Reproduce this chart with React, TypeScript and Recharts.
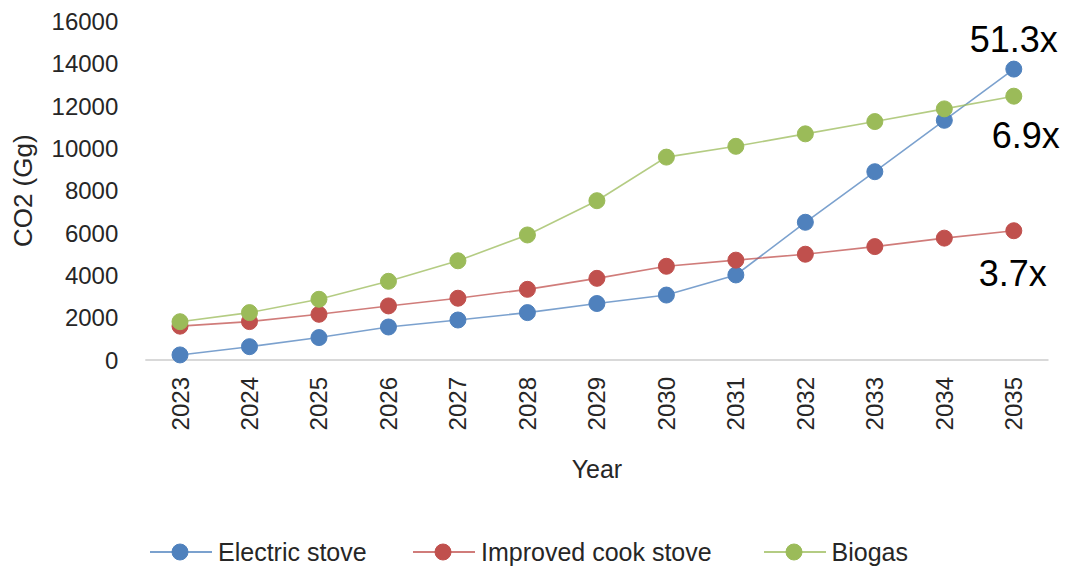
import React from 'react';
import { LineChart, Line, XAxis, YAxis } from 'recharts';

const years = ['2023', '2024', '2025', '2026', '2027', '2028', '2029', '2030', '2031', '2032', '2033', '2034', '2035'];
const electricStove = [240, 630, 1060, 1560, 1890, 2240, 2670, 3070, 4020, 6510, 8900, 11330, 13750];
const improvedCookStove = [1600, 1815, 2160, 2556, 2920, 3340, 3860, 4430, 4720, 5000, 5360, 5760, 6110];
const biogas = [1810, 2240, 2870, 3720, 4690, 5910, 7530, 9590, 10100, 10690, 11270, 11870, 12470];
const yTicks = [0, 2000, 4000, 6000, 8000, 10000, 12000, 14000, 16000];
const seriesNames = ['Electric stove', 'Improved cook stove', 'Biogas'];
const growthLabels = ['51.3x', '3.7x', '6.9x'];

const COLORS = ['#4F81BD', '#C0504D', '#9BBB59'];
const FONT = '"Liberation Sans", Arial, sans-serif';
const TEXT = '#262626';

const data = years.map((year, i) => ({
  year,
  electric: electricStove[i],
  improved: improvedCookStove[i],
  biogas: biogas[i],
}));

const keys = ['electric', 'improved', 'biogas'];
// label offsets relative to last point (dx, dy to text center)
const labelOffsets = [
  [0, -30],
  [-1, 42],
  [12, 39],
];
const legendItemWidths = [263, 350.5, 150];

const XTick = (props: any) => {
  const { x, y, payload } = props;
  const ty = y + 17;
  return (
    <text
      x={x}
      y={ty}
      transform={`rotate(-90, ${x}, ${ty})`}
      textAnchor="end"
      dy="0.355em"
      fill={TEXT}
      fontSize={24}
      fontFamily={FONT}
    >
      {payload.value}
    </text>
  );
};

const makeLabel = (s: number) => (props: any) => {
  const { x, y, index } = props;
  if (index !== years.length - 1) return null;
  return (
    <text
      key={`lbl-${s}`}
      x={x + labelOffsets[s][0]}
      y={y + labelOffsets[s][1]}
      textAnchor="middle"
      dy="0.355em"
      fontSize={36}
      fontFamily={FONT}
      fill="#000"
    >
      {growthLabels[s]}
    </text>
  );
};

const LegendIcon = ({ color }: { color: string }) => (
  <svg width={62} height={20} style={{ display: 'block' }}>
    <line x1={0} y1={10} x2={62} y2={10} stroke={color} strokeWidth={2} strokeOpacity={0.75} />
    <circle cx={30} cy={10} r={8} fill={color} stroke={color} strokeWidth={1} />
  </svg>
);

export default function App() {
  return (
    <div style={{ position: 'absolute', left: 0, top: 0, width: 1078, height: 581, background: '#fff' }}>
      <LineChart
        width={1078}
        height={581}
        data={data}
        margin={{ top: 21.5, right: 29.5, bottom: 0, left: 0 }}
      >
        <XAxis
          dataKey="year"
          height={221}
          interval={0}
          padding={{ left: 34.7, right: 34.7 }}
          axisLine={{ stroke: '#d9d9d9', strokeWidth: 2 }}
          tickLine={false}
          tickSize={0}
          tickMargin={0}
          tick={<XTick />}
          label={{ value: 'Year', position: 'insideTop', offset: 100, fill: TEXT, fontSize: 25, fontFamily: FONT }}
        />
        <YAxis
          width={145.3}
          domain={[0, 16000]}
          ticks={yTicks}
          interval={0}
          axisLine={false}
          tickLine={false}
          tickSize={0}
          tickMargin={27}
          tick={{ fill: TEXT, fontSize: 24, fontFamily: FONT }}
          label={{
            value: 'CO2 (Gg)',
            angle: -90,
            position: 'insideLeft',
            offset: 23,
            fill: TEXT,
            fontSize: 26,
            fontFamily: FONT,
            style: { textAnchor: 'middle' },
          }}
        />
        {keys.map((k, s) => (
          <Line
            key={k}
            type="linear"
            dataKey={k}
            name={seriesNames[s]}
            stroke={COLORS[s]}
            strokeWidth={1.6}
            strokeOpacity={0.75}
            dot={{ r: 8, fill: COLORS[s], stroke: COLORS[s], strokeWidth: 1, fillOpacity: 1, strokeOpacity: 1 }}
            activeDot={false}
            isAnimationActive={false}
            label={makeLabel(s)}
          />
        ))}
      </LineChart>
      <div
        style={{
          position: 'absolute',
          left: 150,
          top: 538,
          height: 28,
          display: 'flex',
          alignItems: 'center',
          fontFamily: FONT,
          fontSize: 25,
          color: TEXT,
          whiteSpace: 'nowrap',
        }}
      >
        {seriesNames.map((n, s) => (
          <div key={n} style={{ display: 'flex', alignItems: 'center', width: legendItemWidths[s], flex: 'none' }}>
            <LegendIcon color={COLORS[s]} />
            <span style={{ marginLeft: 6 }}>{n}</span>
          </div>
        ))}
      </div>
    </div>
  );
}
